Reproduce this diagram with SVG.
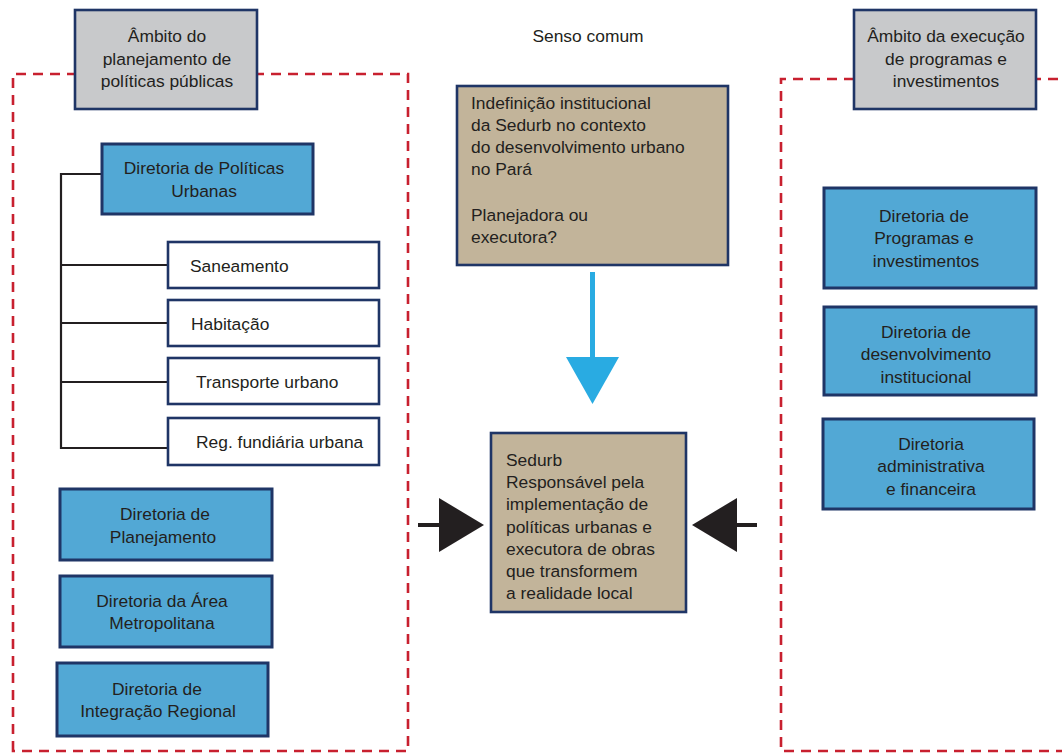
<svg xmlns="http://www.w3.org/2000/svg" width="1062" height="753" viewBox="0 0 1062 753">
<style>
text{font-family:"Liberation Sans",Arial,sans-serif;font-size:17.4px;fill:#231f20}
.c{text-anchor:middle}
.dash{fill:none;stroke:#c8202f;stroke-width:2.6;stroke-dasharray:10 7}
.gray{fill:#c8c9cb;stroke:#1f3566;stroke-width:2.6}
.blue{fill:#52a8d5;stroke:#1f3566;stroke-width:3}
.white{fill:#fff;stroke:#1f3566;stroke-width:2.6}
.tan{fill:#c2b49a;stroke:#1f3566;stroke-width:2.6}
.tree{fill:none;stroke:#231f20;stroke-width:2.2}
</style>
<rect width="1062" height="753" fill="#fff"/>
<g id="frames">
<path class="dash" d="M13,751 V74 H408 V751 Z"/>
<path class="dash" d="M1075,79 H781 V751 H1075"/>
</g>
<g id="connectors">
<path class="tree" d="M102,174 H61 V448 H168 M61,265 H168 M61,323 H168 M61,382 H168"/>
<rect x="590" y="272" width="5" height="88" fill="#29abe2"/>
<polygon points="566,357 619,357 592.5,404" fill="#29abe2"/>
<line x1="418" y1="525" x2="442" y2="525" stroke="#231f20" stroke-width="4"/>
<polygon points="439,498 484,525 439,552" fill="#231f20"/>
<line x1="735" y1="525" x2="757" y2="525" stroke="#231f20" stroke-width="4"/>
<polygon points="737,498 692,525 737,552" fill="#231f20"/>
</g>
<g id="header-left">
<rect class="gray" x="75" y="10" width="182" height="99"/>
<text class="c" x="167" y="42">Âmbito do</text>
<text class="c" x="167" y="65">planejamento de</text>
<text class="c" x="167" y="87">políticas públicas</text>
</g>
<g id="senso">
<text class="c" x="588" y="42">Senso comum</text>
</g>
<g id="header-right">
<rect class="gray" x="854" y="10" width="182" height="99"/>
<text class="c" x="946" y="42">Âmbito da execução</text>
<text class="c" x="946" y="65">de programas e</text>
<text class="c" x="946" y="87">investimentos</text>
</g>
<g id="dir-politicas">
<rect class="blue" x="102" y="144" width="211" height="70"/>
<text class="c" x="204" y="174">Diretoria de Políticas</text>
<text class="c" x="204" y="197">Urbanas</text>
</g>
<g id="saneamento">
<rect class="white" x="168" y="242" width="211" height="46"/>
<text x="190" y="272">Saneamento</text>
</g>
<g id="habitacao">
<rect class="white" x="168" y="300" width="211" height="46"/>
<text x="191" y="330">Habitação</text>
</g>
<g id="transporte">
<rect class="white" x="168" y="358" width="211" height="46"/>
<text x="196" y="388">Transporte urbano</text>
</g>
<g id="reg-fundiaria">
<rect class="white" x="168" y="418" width="211" height="47"/>
<text x="196" y="448">Reg. fundiária urbana</text>
</g>
<g id="dir-planejamento">
<rect class="blue" x="60" y="489" width="212" height="71"/>
<text class="c" x="165" y="520">Diretoria de</text>
<text class="c" x="163" y="543">Planejamento</text>
</g>
<g id="dir-metropolitana">
<rect class="blue" x="60" y="576" width="212" height="71"/>
<text class="c" x="162" y="607">Diretoria da Área</text>
<text class="c" x="162" y="629">Metropolitana</text>
</g>
<g id="dir-integracao">
<rect class="blue" x="57" y="663" width="211" height="73"/>
<text class="c" x="157" y="695">Diretoria de</text>
<text class="c" x="158" y="717">Integração Regional</text>
</g>
<g id="indefinicao">
<rect class="tan" x="457" y="86" width="271" height="179"/>
<text x="471" y="109">Indefinição institucional</text>
<text x="471" y="131">da Sedurb no contexto</text>
<text x="471" y="153">do desenvolvimento urbano</text>
<text x="471" y="175">no Pará</text>
<text x="471" y="221">Planejadora ou</text>
<text x="471" y="243">executora?</text>
</g>
<g id="sedurb">
<rect class="tan" x="491" y="433" width="195" height="179"/>
<text x="506" y="466">Sedurb</text>
<text x="506" y="488">Responsável pela</text>
<text x="506" y="510">implementação de</text>
<text x="506" y="533">políticas urbanas e</text>
<text x="506" y="555">executora de obras</text>
<text x="506" y="577">que transformem</text>
<text x="506" y="599">a realidade local</text>
</g>
<g id="dir-programas">
<rect class="blue" x="824" y="188" width="212" height="100"/>
<text class="c" x="924" y="222">Diretoria de</text>
<text class="c" x="924" y="244">Programas e</text>
<text class="c" x="926" y="267">investimentos</text>
</g>
<g id="dir-desenvolvimento">
<rect class="blue" x="824" y="307" width="212" height="88"/>
<text class="c" x="926" y="338">Diretoria de</text>
<text class="c" x="926" y="360">desenvolvimento</text>
<text class="c" x="926" y="383">institucional</text>
</g>
<g id="dir-administrativa">
<rect class="blue" x="823" y="419" width="211" height="90"/>
<text class="c" x="931" y="450">Diretoria</text>
<text class="c" x="931" y="472">administrativa</text>
<text class="c" x="931" y="495">e financeira</text>
</g>
</svg>
